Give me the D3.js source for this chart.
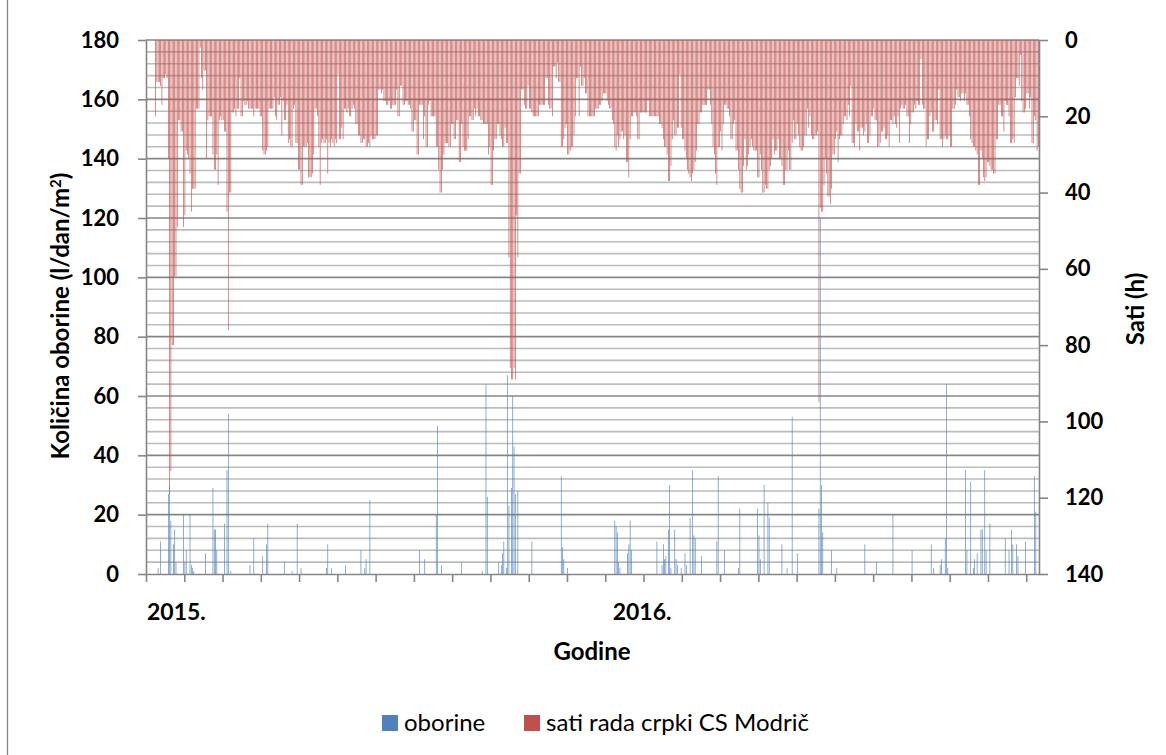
<!DOCTYPE html>
<html>
<head>
  <script src="https://d3js.org/d3.v7.min.js"></script>
  <style>
    html, body { margin: 0; padding: 0; background: #fff; }
    svg { display: block; }
    .num { font-family: Lato, "Open Sans", sans-serif; font-weight: bold; font-size: 22px; fill: #000; }
    .title { font-family: Lato, "Open Sans", sans-serif; font-weight: bold; font-size: 24px; fill: #000; }
    .legend { font-family: Lato, "Open Sans", sans-serif; font-size: 24px; fill: #000; }
  </style>
</head>
<body>
<script>
// daily values, 1.1.2015 - 30.11.2016, one inner array per month
// sati rada crpki CS Modric (h)
const sati2015 = [
  [0,0,0,0,0,0,0,20,11,11,11,12,17,10,10,9,10,31,119,113,80,80,62,62,49,21,21,24,24,49,46],
  [29,30,31,35,45,39,39,39,18,18,18,2,10,13,8,8,31,21,20,20,20,30,34,34,30,38,21,20],
  [21,21,24,24,45,76,40,40,19,19,18,20,18,18,10,20,20,16,17,17,16,18,18,18,18,20,18,18,18,18,20],
  [20,29,30,30,29,28,18,18,18,18,15,20,21,17,17,15,25,16,21,21,17,27,26,28,28,18,17,27,27,34],
  [34,38,38,28,28,28,27,36,36,36,35,30,18,18,20,28,38,27,26,27,27,26,35,27,28,26,27,28,26,27,9],
  [26,26,23,26,18,18,19,18,20,20,18,17,18,22,22,25,25,27,27,26,26,28,28,27,28,25,26,26,26,25],
  [25,13,13,14,13,16,16,17,17,16,18,18,17,17,17,13,20,20,12,12,17,17,16,16,17,17,18,24,24,21,21],
  [30,30,17,17,17,26,20,28,28,17,16,20,20,20,20,28,28,34,40,40,34,30,27,27,27,28,28,22,22,26,26],
  [21,21,32,32,22,28,29,29,29,26,20,20,21,21,18,20,18,20,20,21,21,22,22,22,22,30,28,38,38,29],
  [26,26,22,22,25,26,28,28,23,27,27,57,86,89,89,86,89,46,57,35,35,13,13,17,18,18,12,18,18,19,20],
  [20,20,20,20,17,17,17,17,17,10,10,17,18,18,20,7,7,10,6,11,11,28,28,26,23,22,30,30,29,28],
  [28,25,20,10,10,20,7,12,12,10,14,14,20,20,20,20,20,20,18,18,18,17,17,16,14,14,14,16,17,18,18]
];
const sati2016 = [
  [21,22,28,29,25,28,26,24,24,26,25,32,32,36,26,20,20,19,19,20,26,26,19,19,19,19,19,19,16,20,20],
  [20,20,20,20,20,20,22,22,23,26,28,28,30,37,37,33,26,21,25,25,23,23,9,23,26,26,29,31,34],
  [35,36,37,35,34,32,29,22,22,19,19,17,17,17,17,13,13,17,22,28,30,35,38,28,28,24,29,22,17,17,18],
  [18,20,26,26,22,21,29,29,34,39,40,40,33,26,34,33,30,28,26,28,29,29,29,36,36,30,34,40,40,38],
  [39,39,34,33,31,26,30,29,29,26,31,31,33,38,38,34,34,29,34,34,27,21,26,26,22,25,28,29,29,28,25],
  [25,18,23,20,25,26,26,25,25,24,95,44,45,45,38,31,35,41,41,43,39,30,30,26,24,32,26,25,25,22],
  [20,20,21,17,20,12,27,27,28,22,24,24,29,23,23,25,24,22,27,27,25,20,20,18,21,21,28,28,27,24,24],
  [23,26,26,25,28,21,21,22,20,22,23,20,27,18,17,18,18,17,20,20,27,22,19,19,17,18,16,17,17,5,17],
  [18,18,28,26,26,20,19,24,24,21,21,22,13,26,26,28,26,25,26,26,25,28,28,18,18,17,13,15,15,16],
  [14,14,16,14,17,17,20,26,27,28,28,29,30,38,38,29,31,36,37,36,32,32,33,34,34,35,35,26,26,17,17],
  [20,20,24,16,17,17,20,27,27,26,27,15,10,10,12,4,16,19,19,18,14,14,18,15,27,27,20,21,29,28]
];

// oborine (l/dan/m2)
const oborine2015 = [
  [0,0,0,0,0,0,0,0,0,2,0,11,0,0,0,0,0,27,30,18,0,10,15,4,0,0,0,0,0,20,4],
  [8,0,0,20,3,2,1,0,0,0,0,0,0,0,0,7,0,0,0,0,0,29,15,15,8,0,0,0],
  [0,0,17,0,35,54,0,1,0,0,0,0,0,0,0,0,0,0,0,0,0,0,3,0,0,12,0,0,0,0,0],
  [0,6,0,0,10,17,0,0,0,0,0,0,0,0,0,0,0,0,4,0,0,0,0,0,1,0,0,0,17,0],
  [0,2,0,0,0,0,0,0,0,0,0,0,0,0,0,0,0,0,0,0,0,2,10,0,0,2,0,0,0,0,0],
  [0,0,0,0,0,3,0,0,0,0,0,0,0,0,0,0,0,8,0,0,2,5,0,0,25,0,0,0,0,0],
  [0,0,0,0,0,0,0,0,0,0,0,0,0,0,0,0,0,0,0,0,0,0,0,0,0,0,0,0,0,0,0],
  [0,0,8,0,0,0,5,0,0,0,0,0,0,0,0,20,50,0,0,3,0,0,0,0,0,0,0,0,0,0,0],
  [0,0,0,0,4,0,0,0,0,0,0,0,0,0,0,0,0,0,0,0,1,0,0,64,26,0,0,0,0,0],
  [0,0,0,4,0,3,7,11,0,2,67,23,0,29,60,43,27,0,28,0,0,0,0,0,0,0,0,0,0,11,0],
  [0,0,0,0,0,0,0,0,0,0,0,0,0,0,0,0,0,0,0,0,0,33,9,5,0,0,2,0,0,0],
  [0,0,0,0,0,0,0,0,0,0,0,0,0,0,0,0,0,0,0,0,0,0,0,0,0,0,0,0,0,0,0]
];
const oborine2016 = [
  [0,0,18,16,14,4,2,0,0,0,0,0,7,10,18,8,0,0,0,0,0,0,0,0,0,0,0,0,0,0,0],
  [0,0,0,0,11,0,0,0,3,10,5,6,0,15,30,2,0,0,15,5,3,0,0,2,0,0,7,3,0],
  [0,19,0,35,13,12,0,0,0,0,6,0,0,0,0,0,0,0,0,0,0,0,11,33,0,0,0,0,8,0,0],
  [0,0,0,0,0,0,0,0,2,22,0,0,0,0,0,0,0,0,0,0,0,0,0,22,13,5,0,0,30,0],
  [0,24,19,0,0,0,0,0,0,0,0,0,10,0,0,0,2,0,0,0,53,0,0,0,7,0,0,0,0,0,0],
  [0,0,0,0,0,0,0,0,0,0,22,120,30,14,0,0,0,0,0,0,8,0,0,0,2,0,0,0,0,0],
  [0,0,0,0,0,0,0,0,0,0,0,0,0,0,0,0,10,0,0,0,0,0,0,0,0,4,0,0,0,0,0],
  [0,0,0,0,0,0,0,20,0,0,0,0,0,0,0,0,0,0,0,0,0,0,8,0,0,0,0,0,0,0,0],
  [0,0,0,0,0,0,10,0,2,0,0,0,0,3,5,0,0,12,64,2,0,0,0,0,0,0,0,0,0,0],
  [0,0,0,35,8,0,0,31,0,2,5,0,7,0,0,15,15,0,35,8,0,0,17,0,0,0,0,0,0,0,0],
  [0,0,0,12,0,0,8,0,15,10,0,0,10,6,0,0,0,0,0,11,0,0,0,0,0,0,33,21,0,0]
];

const yearLabels = ["2015.", "2016."];
const yearStartDay = [0, 365];
const leftTicks = [0, 20, 40, 60, 80, 100, 120, 140, 160, 180];
const rightTicks = [0, 20, 40, 60, 80, 100, 120, 140];
const seriesNames = ["oborine", "sati rada crpki CS Modrič"];
const seriesColors = ["#4F81BD", "#C0504D"];

const sati = sati2015.flat().concat(sati2016.flat());
const oborine = oborine2015.flat().concat(oborine2016.flat());
const days = sati.length;

const width = 1166, height = 755;
const plot = {left: 146, right: 1039, top: 40, bottom: 574};

const svg = d3.select("body").append("svg")
  .attr("width", width)
  .attr("height", height);

// chart frame, only its left edge falls inside the picture
svg.append("line")
  .attr("x1", 7.5).attr("x2", 7.5)
  .attr("y1", 0).attr("y2", height)
  .attr("stroke", "#868686")
  .attr("stroke-width", 1.3);

const x = d3.scaleBand()
  .domain(d3.range(days))
  .range([plot.left, plot.right])
  .paddingInner(0.5)
  .paddingOuter(0.25);

const xDay = d3.scaleLinear()
  .domain([0, days])
  .range([plot.left, plot.right]);

const yLeft = d3.scaleLinear()
  .domain([0, 180])
  .range([plot.bottom, plot.top]);

const yRight = d3.scaleLinear()
  .domain([0, 140])
  .range([plot.top, plot.bottom]);

// gridlines: minor every 4, major every 20
svg.append("g")
  .selectAll("line")
  .data(d3.range(4, 180, 4).filter(v => v % 20 != 0))
  .join("line")
    .attr("x1", plot.left).attr("x2", plot.right)
    .attr("y1", d => yLeft(d)).attr("y2", d => yLeft(d))
    .attr("stroke", "#bcbcbc")
    .attr("stroke-width", 1.6);

svg.append("g")
  .selectAll("line")
  .data(leftTicks.filter(v => v > 0))
  .join("line")
    .attr("x1", plot.left).attr("x2", plot.right)
    .attr("y1", d => yLeft(d)).attr("y2", d => yLeft(d))
    .attr("stroke", "#878787")
    .attr("stroke-width", 1.6);

// red bars hang from the top (right axis is reversed)
svg.append("g")
  .selectAll("rect")
  .data(sati)
  .join("rect")
    .attr("x", (d, i) => x(i))
    .attr("y", yRight(0))
    .attr("width", x.bandwidth())
    .attr("height", d => yRight(d) - yRight(0))
    .attr("fill", seriesColors[1]);

svg.append("g")
  .selectAll("rect")
  .data(oborine)
  .join("rect")
    .attr("x", (d, i) => x(i))
    .attr("y", d => yLeft(d))
    .attr("width", x.bandwidth())
    .attr("height", d => yLeft(0) - yLeft(d))
    .attr("fill", seriesColors[0]);

// axes
function styleAxis(g) {
  g.attr("font-family", null).attr("font-size", null);
  g.select(".domain").attr("stroke", "#868686").attr("stroke-width", 1.6);
  g.selectAll(".tick line").attr("stroke", "#868686").attr("stroke-width", 1.6);
  g.selectAll("text").attr("class", "num");
}

svg.append("g")
  .attr("transform", `translate(${plot.left},0)`)
  .call(d3.axisLeft(yLeft).tickValues(leftTicks).tickSize(8).tickSizeOuter(0).tickPadding(19))
  .call(styleAxis);

svg.append("g")
  .attr("transform", `translate(${plot.right},0)`)
  .call(d3.axisRight(yRight).tickValues(rightTicks).tickSize(9).tickSizeOuter(0).tickPadding(17))
  .call(styleAxis);

svg.append("g")
  .attr("transform", `translate(0,${plot.bottom})`)
  .call(d3.axisBottom(xDay).tickValues(d3.range(0, days, 30)).tickFormat("").tickSize(8).tickSizeOuter(0))
  .call(styleAxis);

// year labels
svg.append("g")
  .selectAll("text")
  .data(yearLabels)
  .join("text")
    .attr("class", "num")
    .style("font-size", "23px")
    .attr("x", (d, i) => xDay(yearStartDay[i]) + 1)
    .attr("y", 620)
    .text(d => d);

// axis titles
svg.append("text")
  .attr("class", "title")
  .attr("text-anchor", "middle")
  .attr("transform", "translate(69,316) rotate(-90)")
  .html('Količina oborine (l/dan/m<tspan dy="-8" font-size="15px">2</tspan><tspan dy="8">)</tspan>');

svg.append("text")
  .attr("class", "title")
  .attr("text-anchor", "middle")
  .attr("transform", "translate(1144,309) rotate(-90)")
  .text("Sati (h)");

svg.append("text")
  .attr("class", "title")
  .attr("text-anchor", "middle")
  .attr("x", 592)
  .attr("y", 660)
  .text("Godine");

// legend
const legendX = [382, 524];
const legend = svg.append("g")
  .selectAll("g")
  .data(seriesNames)
  .join("g")
    .attr("transform", (d, i) => `translate(${legendX[i]},715)`);

legend.append("rect")
  .attr("width", 16).attr("height", 16)
  .attr("fill", (d, i) => seriesColors[i]);

legend.append("text")
  .attr("class", "legend")
  .attr("x", 22)
  .attr("y", 16)
  .text(d => d);
</script>
</body>
</html>
